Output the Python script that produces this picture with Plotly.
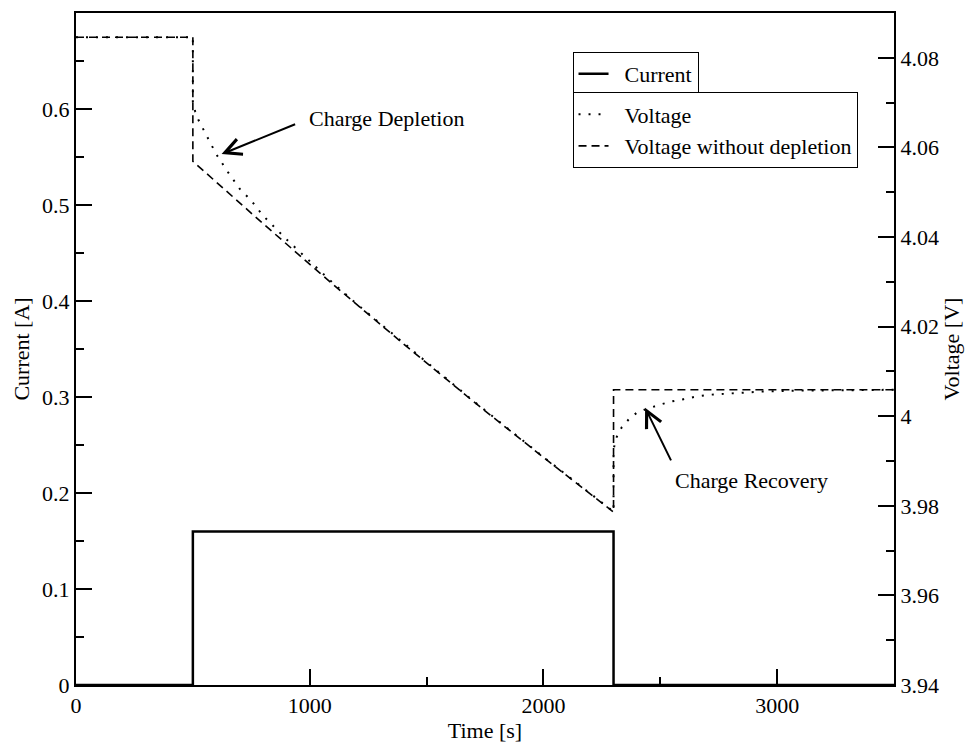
import plotly.graph_objects as go

# ---- data ----
time_current = [0, 500, 500, 2300, 2300, 3500]
current = [0, 0, 0.16, 0.16, 0, 0]

time_nodep = [0, 500, 500, 800, 1100, 1400, 1700, 2000, 2300, 2300, 3500]
volt_nodep = [4.0846, 4.0846, 4.0569, 4.0430, 4.0294, 4.0162, 4.0033, 3.9908,
              3.9786, 4.0059, 4.0059]

time_volt = [0, 500, 500, 510, 525, 550, 575, 600, 650, 700, 750, 800, 900,
             1000, 1100, 1200, 1400, 1700, 2000, 2300, 2300, 2310, 2335, 2365,
             2400, 2440, 2500, 2550, 2600, 2655, 2715, 2770, 2840, 2930, 3070,
             3210, 3500]
volt = [4.0846, 4.0846, 4.0701, 4.0680, 4.0660, 4.0635, 4.0612, 4.0585, 4.0545,
        4.0508, 4.0481, 4.0448, 4.0395, 4.0345, 4.0297, 4.0251, 4.0164, 4.0034,
        3.9909, 3.9787, 3.9925, 3.9950, 3.9975, 3.9993, 4.0008, 4.0016, 4.0026,
        4.0033, 4.0038, 4.0044, 4.0048, 4.0050, 4.0053, 4.0055, 4.0057, 4.0058,
        4.0059]

x_ticks = [0, 1000, 2000, 3000]
x_ticklabels = ["0", "1000", "2000", "3000"]
x_minor = [500, 1500, 2500]
y_ticks = [0, 0.1, 0.2, 0.3, 0.4, 0.5, 0.6]
y_ticklabels = ["0", "0.1", "0.2", "0.3", "0.4", "0.5", "0.6"]
y_minor = [0.05, 0.15, 0.25, 0.35, 0.45, 0.55, 0.65]
y2_ticks = [3.94, 3.96, 3.98, 4.00, 4.02, 4.04, 4.06, 4.08]
y2_ticklabels = ["3.94", "3.96", "3.98", "4", "4.02", "4.04", "4.06", "4.08"]
y2_minor = [3.95, 3.97, 3.99, 4.01, 4.03, 4.05, 4.07]

FONT = "Liberation Serif"
FS = 22
PAD = "\u00a0\u00a0"

fig = go.Figure()
fig.add_trace(go.Scatter(x=time_current, y=current, mode="lines", name=PAD + "Current",
                         line=dict(color="black", width=2.5), yaxis="y",
                         legend="legend"))
fig.add_trace(go.Scatter(x=time_volt, y=volt, mode="lines", name=PAD + "Voltage",
                         line=dict(color="black", width=2, dash="2px,8px"),
                         yaxis="y2", legend="legend2"))
fig.add_trace(go.Scatter(x=time_nodep, y=volt_nodep, mode="lines",
                         name=PAD + "Voltage without depletion",
                         line=dict(color="black", width=1.6, dash="8px,5px"),
                         yaxis="y2", legend="legend2"))

axis_common = dict(showgrid=False, zeroline=False, showline=True, linecolor="black",
                   linewidth=2, ticks="inside", ticklen=16, tickwidth=1.5,
                   tickcolor="black", tickfont=dict(family=FONT, size=FS, color="black"))

fig.update_layout(
    width=971, height=749, autosize=False,
    margin=dict(l=76, r=77, t=11, b=56),
    paper_bgcolor="white", plot_bgcolor="white",
    font=dict(family=FONT, size=FS, color="black"),
    xaxis=dict(range=[0, 3500], tickmode="array", tickvals=x_ticks,
               ticktext=x_ticklabels, mirror=True,
               minor=dict(tickmode="array", tickvals=x_minor, ticks="inside",
                          ticklen=8, tickwidth=1.5, tickcolor="black"),
               title=dict(text="Time [s]", font=dict(family=FONT, size=FS),
                          standoff=4),
               **axis_common),
    yaxis=dict(range=[0, 0.7], tickmode="array", tickvals=y_ticks,
               ticktext=y_ticklabels,
               minor=dict(tickmode="array", tickvals=y_minor, ticks="inside",
                          ticklen=8, tickwidth=1.5, tickcolor="black"),
               title=dict(text="Current [A]", font=dict(family=FONT, size=FS),
                          standoff=6),
               **axis_common),
    yaxis2=dict(range=[3.94, 4.09], overlaying="y", side="right",
                tickmode="array", tickvals=y2_ticks, ticktext=y2_ticklabels,
                minor=dict(tickmode="array", tickvals=y2_minor, ticks="inside",
                           ticklen=8, tickwidth=1.5, tickcolor="black"),
                title=dict(text="Voltage [V]", font=dict(family=FONT, size=FS),
                           standoff=3),
                **axis_common),
    legend=dict(x=0.607, y=0.942, xanchor="left", yanchor="top",
                bgcolor="white", bordercolor="black", borderwidth=1,
                font=dict(family=FONT, size=FS), itemwidth=30,
                tracegroupgap=0),
    legend2=dict(x=0.607, y=0.8817, xanchor="left", yanchor="top",
                 bgcolor="white", bordercolor="black", borderwidth=1,
                 font=dict(family=FONT, size=FS), itemwidth=30,
                 tracegroupgap=0),
    showlegend=True,
)

# annotations: arrows + labels
fig.add_annotation(x=623, y=4.0585, xref="x", yref="y2", ax=944, ay=4.0653,
                   axref="x", ayref="y2", text="", showarrow=True,
                   arrowhead=5, arrowsize=1.6, arrowwidth=2, arrowcolor="black")
fig.add_annotation(x=987, y=4.0664, xref="x", yref="y2", text="Charge Depletion",
                   showarrow=False, xanchor="left", yanchor="middle",
                   font=dict(family=FONT, size=FS, color="black"))
fig.add_annotation(x=2435, y=4.0019, xref="x", yref="y2", ax=2549, ay=3.9898,
                   axref="x", ayref="y2", text="", showarrow=True,
                   arrowhead=5, arrowsize=1.6, arrowwidth=2, arrowcolor="black")
fig.add_annotation(x=2556, y=3.9857, xref="x", yref="y2", text="Charge Recovery",
                   showarrow=False, xanchor="left", yanchor="middle",
                   font=dict(family=FONT, size=FS, color="black"))

fig.write_html("out.html")
